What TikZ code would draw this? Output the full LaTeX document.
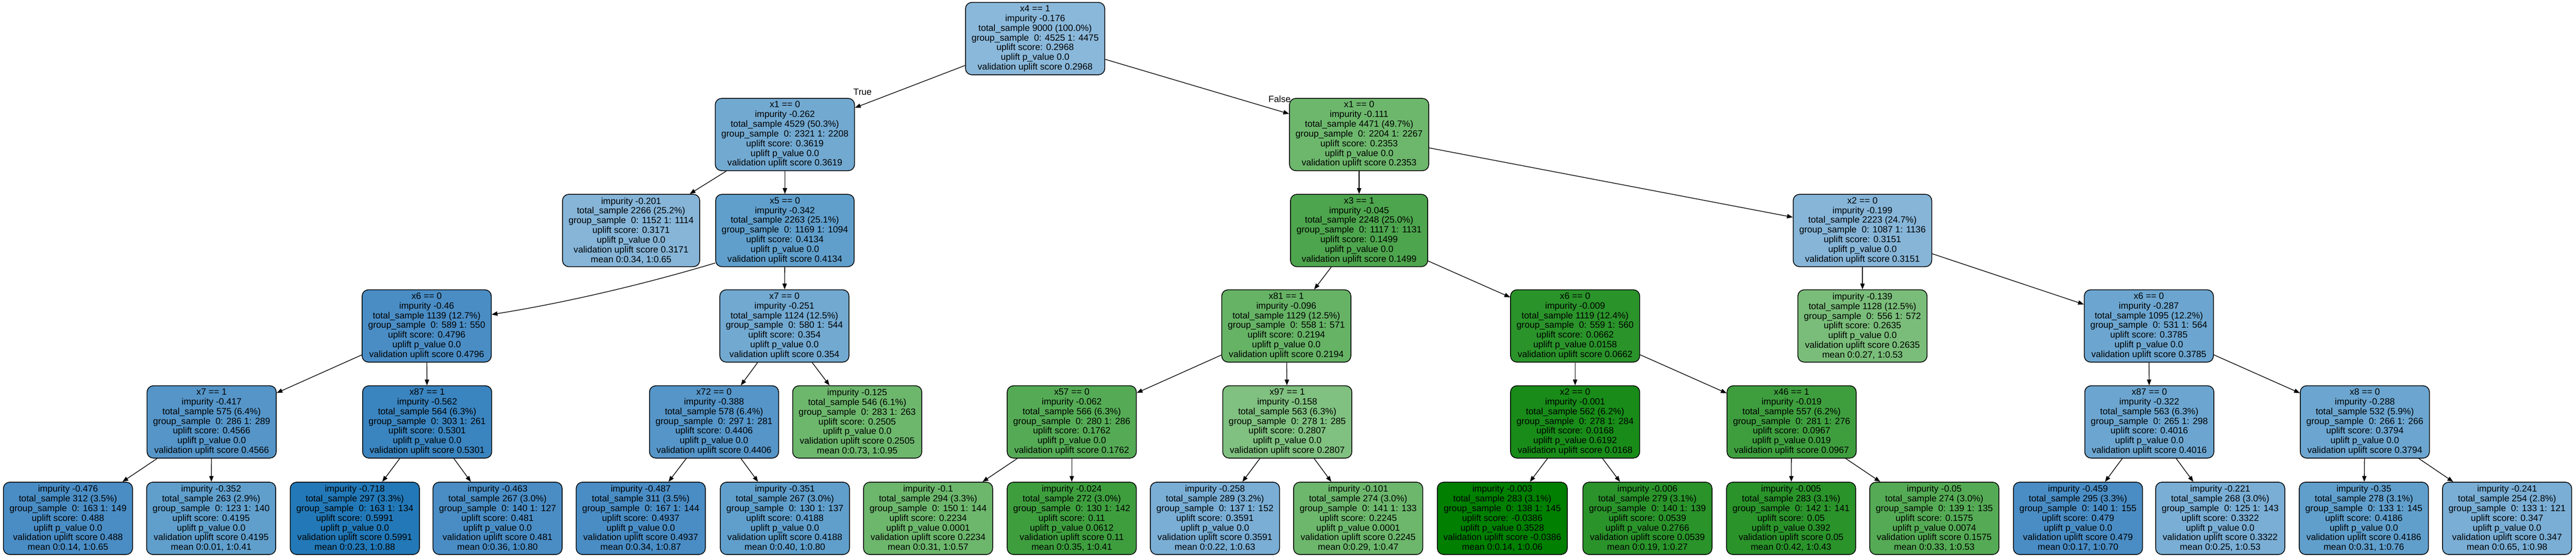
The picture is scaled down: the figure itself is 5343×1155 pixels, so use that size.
\documentclass[tikz,border=0pt]{standalone}
\usepackage{fontspec}
\setmainfont{Liberation Sans}
\usetikzlibrary{arrows.meta}
\definecolor{blue1}{HTML}{8AB8DA}
\definecolor{blue2}{HTML}{86B5D8}
\definecolor{blue3}{HTML}{7AAED5}
\definecolor{blue4}{HTML}{72A9D1}
\definecolor{blue5}{HTML}{6CA6D0}
\definecolor{blue6}{HTML}{609FCC}
\definecolor{blue7}{HTML}{5595C8}
\definecolor{blue8}{HTML}{4A8DC5}
\definecolor{blue9}{HTML}{3A84BF}
\definecolor{blue10}{HTML}{2379B8}
\definecolor{green1}{HTML}{80C080}
\definecolor{green2}{HTML}{7ABD7A}
\definecolor{green3}{HTML}{6DB76D}
\definecolor{green4}{HTML}{66B366}
\definecolor{green5}{HTML}{55AB55}
\definecolor{green6}{HTML}{4DA54D}
\definecolor{green7}{HTML}{3E9E3E}
\definecolor{green8}{HTML}{2A932A}
\definecolor{green9}{HTML}{188B18}
\definecolor{green10}{HTML}{007F00}
\newcommand{\treefont}{\fontsize{5.35pt}{5.72pt}\selectfont}
\newcommand{\splitbox}[6]{#1\\impurity #2\\total\_sample #3\\group\_sample\ \ 0: #4\\uplift score: #5\\uplift p\_value #6\\validation uplift score #5}
\newcommand{\leafbox}[6]{impurity #1\\total\_sample #2\\group\_sample\ \ 0: #3\\uplift score: #4\\uplift p\_value #5\\validation uplift score #4\\mean #6}

\begin{document}
\begin{tikzpicture}[x=0.1mm, y=-0.1mm,
  tnode/.style={draw, line width=0.16mm, rounded corners=1.3mm, align=center, font=\treefont, inner xsep=1.25mm, inner ysep=0.3mm, minimum height=15mm},
  >={Triangle[length=1.2mm, width=0.9mm]}]
\useasboundingbox (0,0) rectangle (5343,1155);
\node[tnode, fill=blue1] (N) at (2147,80) {\splitbox{x4 == 1}{-0.176}{9000 (100.0\%)}{4525 1: 4475}{0.2968}{0.0}};
\node[tnode, fill=blue4] (NT) at (1628,279) {\splitbox{x1 == 0}{-0.262}{4529 (50.3\%)}{2321 1: 2208}{0.3619}{0.0}};
\node[tnode, fill=green3] (NF) at (2819,279) {\splitbox{x1 == 0}{-0.111}{4471 (49.7\%)}{2204 1: 2267}{0.2353}{0.0}};
\node[tnode, fill=blue2] (NTT) at (1309,478) {\leafbox{-0.201}{2266 (25.2\%)}{1152 1: 1114}{0.3171}{0.0}{0:0.34, 1:0.65}};
\node[tnode, fill=blue6] (NTF) at (1628,478) {\splitbox{x5 == 0}{-0.342}{2263 (25.1\%)}{1169 1: 1094}{0.4134}{0.0}};
\node[tnode, fill=green6] (NFT) at (2819,478) {\splitbox{x3 == 1}{-0.045}{2248 (25.0\%)}{1117 1: 1131}{0.1499}{0.0}};
\node[tnode, fill=blue2] (NFF) at (3863,478) {\splitbox{x2 == 0}{-0.199}{2223 (24.7\%)}{1087 1: 1136}{0.3151}{0.0}};
\node[tnode, fill=blue8] (NTFT) at (885,676) {\splitbox{x6 == 0}{-0.46}{1139 (12.7\%)}{589 1: 550}{0.4796}{0.0}};
\node[tnode, fill=blue4] (NTFF) at (1627,676) {\splitbox{x7 == 0}{-0.251}{1124 (12.5\%)}{580 1: 544}{0.354}{0.0}};
\node[tnode, fill=green4] (NFTT) at (2668,676) {\splitbox{x81 == 1}{-0.096}{1129 (12.5\%)}{558 1: 571}{0.2194}{0.0}};
\node[tnode, fill=green8] (NFTF) at (3267,676) {\splitbox{x6 == 0}{-0.009}{1119 (12.4\%)}{559 1: 560}{0.0662}{0.0158}};
\node[tnode, fill=green2] (NFFT) at (3863,676) {\leafbox{-0.139}{1128 (12.5\%)}{556 1: 572}{0.2635}{0.0}{0:0.27, 1:0.53}};
\node[tnode, fill=blue5] (NFFF) at (4457,676) {\splitbox{x6 == 0}{-0.287}{1095 (12.2\%)}{531 1: 564}{0.3785}{0.0}};
\node[tnode, fill=blue7] (NTFTT) at (439,875) {\splitbox{x7 == 1}{-0.417}{575 (6.4\%)}{286 1: 289}{0.4566}{0.0}};
\node[tnode, fill=blue9] (NTFTF) at (886,875) {\splitbox{x87 == 1}{-0.562}{564 (6.3\%)}{303 1: 261}{0.5301}{0.0}};
\node[tnode, fill=blue7] (NTFFT) at (1481,875) {\splitbox{x72 == 0}{-0.388}{578 (6.4\%)}{297 1: 281}{0.4406}{0.0}};
\node[tnode, fill=green3] (NTFFF) at (1778,875) {\leafbox{-0.125}{546 (6.1\%)}{283 1: 263}{0.2505}{0.0}{0:0.73, 1:0.95}};
\node[tnode, fill=green5] (NFTTT) at (2223,875) {\splitbox{x57 == 0}{-0.062}{566 (6.3\%)}{280 1: 286}{0.1762}{0.0}};
\node[tnode, fill=green1] (NFTTF) at (2670,875) {\splitbox{x97 == 1}{-0.158}{563 (6.3\%)}{278 1: 285}{0.2807}{0.0}};
\node[tnode, fill=green9] (NFTFT) at (3267,875) {\splitbox{x2 == 0}{-0.001}{562 (6.2\%)}{278 1: 284}{0.0168}{0.6192}};
\node[tnode, fill=green7] (NFTFF) at (3716,875) {\splitbox{x46 == 1}{-0.019}{557 (6.2\%)}{281 1: 276}{0.0967}{0.019}};
\node[tnode, fill=blue5] (NFFFT) at (4458,875) {\splitbox{x87 == 0}{-0.322}{563 (6.3\%)}{265 1: 298}{0.4016}{0.0}};
\node[tnode, fill=blue5] (NFFFF) at (4905,875) {\splitbox{x8 == 0}{-0.288}{532 (5.9\%)}{266 1: 266}{0.3794}{0.0}};
\node[tnode, fill=blue8] (NTFTTT) at (141,1075) {\leafbox{-0.476}{312 (3.5\%)}{163 1: 149}{0.488}{0.0}{0:0.14, 1:0.65}};
\node[tnode, fill=blue6] (NTFTTF) at (438,1075) {\leafbox{-0.352}{263 (2.9\%)}{123 1: 140}{0.4195}{0.0}{0:0.01, 1:0.41}};
\node[tnode, fill=blue10] (NTFTFT) at (736,1075) {\leafbox{-0.718}{297 (3.3\%)}{163 1: 134}{0.5991}{0.0}{0:0.23, 1:0.88}};
\node[tnode, fill=blue8] (NTFTFF) at (1032,1075) {\leafbox{-0.463}{267 (3.0\%)}{140 1: 127}{0.481}{0.0}{0:0.36, 1:0.80}};
\node[tnode, fill=blue8] (NTFFTT) at (1329,1075) {\leafbox{-0.487}{311 (3.5\%)}{167 1: 144}{0.4937}{0.0}{0:0.34, 1:0.87}};
\node[tnode, fill=blue6] (NTFFTF) at (1628,1075) {\leafbox{-0.351}{267 (3.0\%)}{130 1: 137}{0.4188}{0.0}{0:0.40, 1:0.80}};
\node[tnode, fill=green3] (NFTTTT) at (1925,1075) {\leafbox{-0.1}{294 (3.3\%)}{150 1: 144}{0.2234}{0.0001}{0:0.31, 1:0.57}};
\node[tnode, fill=green7] (NFTTTF) at (2223,1075) {\leafbox{-0.024}{272 (3.0\%)}{130 1: 142}{0.11}{0.0612}{0:0.35, 1:0.41}};
\node[tnode, fill=blue3] (NFTTFT) at (2520,1075) {\leafbox{-0.258}{289 (3.2\%)}{137 1: 152}{0.3591}{0.0}{0:0.22, 1:0.63}};
\node[tnode, fill=green3] (NFTTFF) at (2817,1075) {\leafbox{-0.101}{274 (3.0\%)}{141 1: 133}{0.2245}{0.0001}{0:0.29, 1:0.47}};
\node[tnode, fill=green10] (NFTFTT) at (3116,1075) {\leafbox{-0.003}{283 (3.1\%)}{138 1: 145}{-0.0386}{0.3528}{0:0.14, 1:0.06}};
\node[tnode, fill=green8] (NFTFTF) at (3417,1075) {\leafbox{-0.006}{279 (3.1\%)}{140 1: 139}{0.0539}{0.2766}{0:0.19, 1:0.27}};
\node[tnode, fill=green8] (NFTFFT) at (3715,1075) {\leafbox{-0.005}{283 (3.1\%)}{142 1: 141}{0.05}{0.392}{0:0.42, 1:0.43}};
\node[tnode, fill=green5] (NFTFFF) at (4012,1075) {\leafbox{-0.05}{274 (3.0\%)}{139 1: 135}{0.1575}{0.0074}{0:0.33, 1:0.53}};
\node[tnode, fill=blue8] (NFFFTT) at (4310,1075) {\leafbox{-0.459}{295 (3.3\%)}{140 1: 155}{0.479}{0.0}{0:0.17, 1:0.70}};
\node[tnode, fill=blue3] (NFFFTF) at (4605,1075) {\leafbox{-0.221}{268 (3.0\%)}{125 1: 143}{0.3322}{0.0}{0:0.25, 1:0.53}};
\node[tnode, fill=blue6] (NFFFFT) at (4903,1075) {\leafbox{-0.35}{278 (3.1\%)}{133 1: 145}{0.4186}{0.0}{0:0.31, 1:0.76}};
\node[tnode, fill=blue3] (NFFFFF) at (5200,1075) {\leafbox{-0.241}{254 (2.8\%)}{133 1: 121}{0.347}{0.0}{0:0.65, 1:0.98}};
\node[font=\treefont] (TL) at (1789,191) {True};
\node[font=\treefont] (FL) at (2654,205) {False};
\draw[->] (N) -- (NT);
\draw[->] (N) -- (NF);
\draw[->] (NT) -- (NTT);
\draw[->] (NT) -- (NTF);
\draw[->] (NF) -- (NFT);
\draw[->] (NF) -- (NFF);
\draw[->] (NTF.205) .. controls +(-150,45) and +(150,-24) .. (NTFT.10);
\draw[->] (NTF) -- (NTFF);
\draw[->] (NFT) -- (NFTT);
\draw[->] (NFT) -- (NFTF);
\draw[->] (NFF) -- (NFFT);
\draw[->] (NFF) -- (NFFF);
\draw[->] (NTFT) -- (NTFTT);
\draw[->] (NTFT) -- (NTFTF);
\draw[->] (NTFF) -- (NTFFT);
\draw[->] (NTFF) -- (NTFFF);
\draw[->] (NFTT) -- (NFTTT);
\draw[->] (NFTT) -- (NFTTF);
\draw[->] (NFTF) -- (NFTFT);
\draw[->] (NFTF) -- (NFTFF);
\draw[->] (NFFF) -- (NFFFT);
\draw[->] (NFFF) -- (NFFFF);
\draw[->] (NTFTT) -- (NTFTTT);
\draw[->] (NTFTT) -- (NTFTTF);
\draw[->] (NTFTF) -- (NTFTFT);
\draw[->] (NTFTF) -- (NTFTFF);
\draw[->] (NTFFT) -- (NTFFTT);
\draw[->] (NTFFT) -- (NTFFTF);
\draw[->] (NFTTT) -- (NFTTTT);
\draw[->] (NFTTT) -- (NFTTTF);
\draw[->] (NFTTF) -- (NFTTFT);
\draw[->] (NFTTF) -- (NFTTFF);
\draw[->] (NFTFT) -- (NFTFTT);
\draw[->] (NFTFT) -- (NFTFTF);
\draw[->] (NFTFF) -- (NFTFFT);
\draw[->] (NFTFF) -- (NFTFFF);
\draw[->] (NFFFT) -- (NFFFTT);
\draw[->] (NFFFT) -- (NFFFTF);
\draw[->] (NFFFF) -- (NFFFFT);
\draw[->] (NFFFF) -- (NFFFFF);
\end{tikzpicture}
\end{document}
